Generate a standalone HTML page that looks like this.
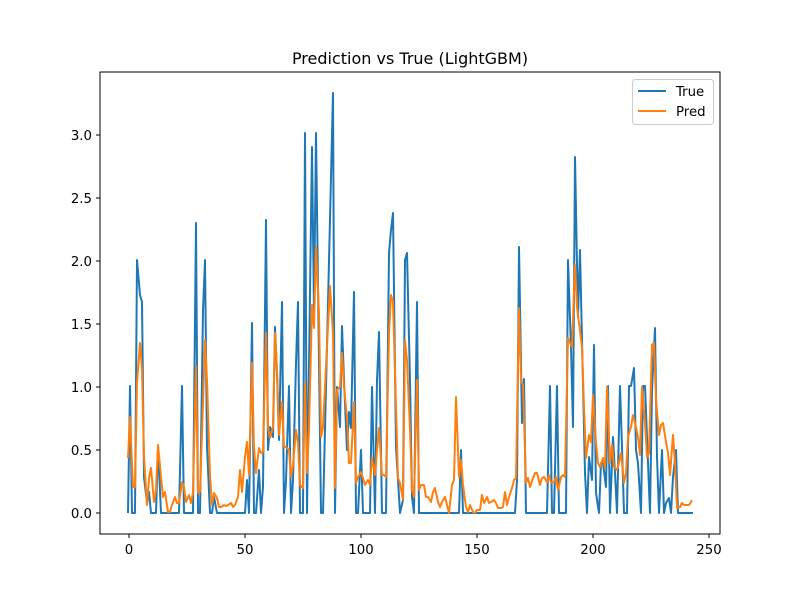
<!DOCTYPE html>
<html><head><meta charset="utf-8"><style>body{margin:0;background:#fff}svg{display:block}</style></head><body>
<svg width="800" height="600" viewBox="0 0 800 600" xmlns="http://www.w3.org/2000/svg" font-family="DejaVu Sans, Liberation Sans, sans-serif">
<rect width="800" height="600" fill="#fff"/>
<text x="410" y="64" font-size="16" text-anchor="middle">Prediction vs True (LightGBM)</text>
<g fill="none" stroke-linejoin="round" stroke-width="2">
<polyline stroke="#1f77b4" points="128,513 130,386 132,513 135,513 137,260 140,295 142,302 144,477 147,503 149,492 151,513 156,513 158,447 161,513 179,513 182,386 184,513 193,513 196,223 198,513 200,513 203,310 205,260 207,447 210,513 212,513 214,497 217,513 245,513 247,480 249,513 252,323 254,513 256,513 259,470 261,513 263,487 266,220 268,450 270,427 273,437 275,327 277,373 279,440 282,302 284,513 286,480 289,386 291,513 293,480 296,363 298,302 300,513 303,513 305,133 307,513 312,147 314,313 316,133 321,513 323,513 333,93 335,513 337,387 340,427 342,326 344,380 347,450 349,412 351,428 354,292 356,513 358,513 361,450 363,513 370,513 372,387 375,513 377,380 379,332 382,513 386,513 389,253 391,230 393,213 396,447 398,480 400,513 403,500 405,260 407,253 410,380 412,497 414,513 417,302 419,513 459,513 461,450 463,513 515,513 517,480 519,247 522,423 524,379 526,513 547,513 550,386 552,513 554,513 557,386 559,513 566,513 568,260 571,347 573,427 575,157 578,317 580,250 582,340 585,473 587,513 589,457 592,480 594,345 596,493 599,513 601,463 603,463 606,487 608,386 610,513 613,437 615,473 617,513 620,386 622,447 624,513 627,513 629,386 631,386 634,368 636,450 638,463 641,513 643,386 645,386 648,463 650,513 652,390 655,328 657,457 659,513 662,450 664,513 666,503 669,498 671,513 673,477 676,450 678,513 693,513"/>
<polyline stroke="#ff7f0e" points="128,458 130,417 133,487 135,487 137,383 140,343 142,370 144,457 147,505 149,478 151,468 154,502 156,490 158,445 161,477 163,497 165,492 168,512 170,512 172,505 175,497 177,503 179,503 182,482 184,487 186,502 189,495 191,503 193,493 196,366 198,493 200,492 203,403 205,340 207,380 210,475 212,505 214,493 217,498 219,507 221,507 224,505 226,506 228,505 231,503 233,507 235,505 238,497 240,470 242,492 245,457 247,442 249,475 252,363 254,447 256,473 259,448 261,453 263,452 266,333 268,427 270,438 273,427 275,333 277,370 279,435 282,402 284,447 286,447 289,450 291,477 293,465 296,430 298,443 300,485 303,488 305,383 307,473 309,430 312,305 314,328 316,247 319,313 321,437 323,427 330,286 333,333 335,488 337,390 340,387 342,353 344,387 347,417 349,463 351,463 354,402 356,483 358,477 361,472 363,478 365,485 368,480 370,485 372,458 375,475 377,450 379,428 382,475 384,475 386,477 389,333 391,295 393,302 396,407 398,478 400,483 403,500 405,340 407,360 410,430 412,490 414,497 417,380 419,490 421,485 424,485 426,497 428,497 431,502 433,492 435,488 438,502 440,507 442,502 445,497 447,505 449,513 452,485 454,480 456,397 459,477 461,460 463,485 466,507 468,512 470,505 473,512 475,513 477,510 480,510 482,495 484,503 487,497 489,503 491,502 494,500 496,503 498,508 501,508 503,507 505,492 507,505 509,497 512,488 514,480 516,478 519,308 521,380 523,385 526,483 528,478 530,487 533,478 535,473 537,473 540,485 542,478 544,477 547,482 549,475 551,483 554,482 556,477 558,490 561,477 563,475 565,477 568,338 570,343 572,347 575,265 577,307 579,323 582,347 584,407 586,458 589,435 591,442 593,395 596,443 598,463 600,467 603,458 605,467 607,387 610,463 612,445 614,467 617,470 619,463 621,453 624,483 626,473 628,437 631,427 633,415 635,423 638,437 640,455 642,387 645,423 647,457 649,453 652,345 654,343 656,400 659,435 661,425 663,423 666,442 668,453 670,475 673,435 675,463 677,508 680,507 682,503 684,505 686,505 689,505 691,502 692,500"/>
</g>
<rect x="100" y="72" width="620" height="462" fill="none" stroke="#000" stroke-width="1"/>
<g stroke="#000" stroke-width="1">
<line x1="129" y1="534" x2="129" y2="538"/><line x1="245" y1="534" x2="245" y2="538"/><line x1="361" y1="534" x2="361" y2="538"/><line x1="477" y1="534" x2="477" y2="538"/><line x1="593" y1="534" x2="593" y2="538"/><line x1="709" y1="534" x2="709" y2="538"/>
<line x1="96" y1="513" x2="100" y2="513"/><line x1="96" y1="450" x2="100" y2="450"/><line x1="96" y1="387" x2="100" y2="387"/><line x1="96" y1="324" x2="100" y2="324"/><line x1="96" y1="261" x2="100" y2="261"/><line x1="96" y1="198" x2="100" y2="198"/><line x1="96" y1="135" x2="100" y2="135"/>
</g>
<g font-size="13.3" text-anchor="middle">
<text x="129" y="554">0</text><text x="245" y="554">50</text><text x="361" y="554">100</text><text x="477" y="554">150</text><text x="593" y="554">200</text><text x="709" y="554">250</text>
</g>
<g font-size="13.3" text-anchor="end">
<text x="92" y="518">0.0</text><text x="92" y="455">0.5</text><text x="92" y="392">1.0</text><text x="92" y="329">1.5</text><text x="92" y="266">2.0</text><text x="92" y="203">2.5</text><text x="92" y="140">3.0</text>
</g>
<rect x="632.5" y="79.5" width="81" height="45" rx="3" fill="#fff" stroke="#ccc"/>
<line x1="638" y1="91" x2="666" y2="91" stroke="#1f77b4" stroke-width="2"/>
<line x1="638" y1="111" x2="666" y2="111" stroke="#ff7f0e" stroke-width="2"/>
<text x="676" y="96" font-size="13.3">True</text>
<text x="676" y="116" font-size="13.3">Pred</text>
</svg>
</body></html>
